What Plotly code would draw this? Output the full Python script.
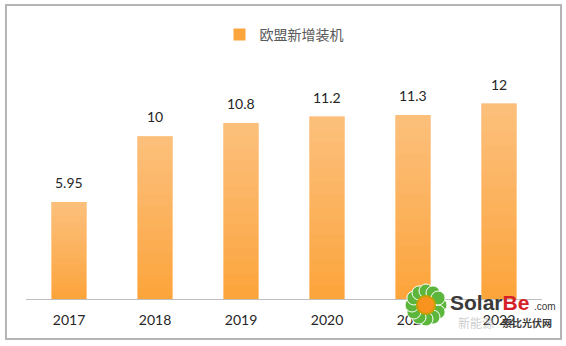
import math
import plotly.graph_objects as go

# EU new installations (GW) by year
years = ["2017", "2018", "2019", "2020", "2021", "2022"]
installs = [5.95, 10, 10.8, 11.2, 11.3, 12]
value_labels = ["5.95", "10", "10.8", "11.2", "11.3", "12"]
series_name = "欧盟新增装机"

BASE_COLOR = "#fca53c"
FONT_LATIN = "Lato, 'Open Sans', sans-serif"
FONT_CJK = "'Noto Sans CJK SC', sans-serif"

fig = go.Figure()

# main bars
fig.add_trace(go.Bar(
    x=years, y=installs, name=series_name,
    marker=dict(color=BASE_COLOR, line=dict(width=0)),
    showlegend=True,
))

# translucent white overlays that lighten each bar towards its top
steps = 14
for k in range(1, steps):
    frac = k / steps
    fig.add_trace(go.Bar(
        x=years,
        base=[v * frac for v in installs],
        y=[v * (1 - frac) for v in installs],
        marker=dict(color="rgba(255,255,255,0.032)", line=dict(width=0)),
        hoverinfo="skip", showlegend=False,
    ))

# value labels above the bars (category index as x position)
for i, (v, lab) in enumerate(zip(installs, value_labels)):
    fig.add_annotation(x=i, y=v, text=lab, showarrow=False,
                       yanchor="bottom", yshift=9,
                       font=dict(family=FONT_LATIN, size=14, color="#262626"))

fig.update_layout(
    width=566, height=346,
    margin=dict(l=26, r=24, t=71, b=47),
    paper_bgcolor="white", plot_bgcolor="white",
    barmode="overlay", bargap=0.59,
    showlegend=True,
    legend=dict(
        orientation="h", x=0.5, xanchor="center", y=1.158, yanchor="middle",
        font=dict(family=FONT_CJK, size=14, color="#595959"),
        bgcolor="rgba(0,0,0,0)", itemwidth=30,
    ),
    xaxis=dict(
        type="category", showgrid=False, zeroline=False,
        showline=True, linecolor="#bfbfbf", linewidth=1,
        ticks="", ticklabelstandoff=8,
        tickfont=dict(family=FONT_LATIN, size=14, color="#262626"),
    ),
    yaxis=dict(range=[0, 14], visible=False, showgrid=False),
)

# outer frame
fig.add_shape(type="rect", xref="paper", yref="paper",
              x0=-0.0388, x1=1.0368, y0=-0.175, y1=1.289,
              line=dict(color="#b4b4b4", width=2), fillcolor="rgba(0,0,0,0)")


# pixel -> paper helpers for the watermark
def px(x):
    return (x - 26) / 516


def py(y):
    return (299 - y) / 228


# SolarBe watermark: flower logo
cx, cy = 426, 305
for i in range(12):
    a = 2 * math.pi * i / 12
    ex, ey = cx + 14 * math.cos(a), cy + 14 * math.sin(a)
    fig.add_shape(type="circle", xref="paper", yref="paper",
                  x0=px(ex - 7), x1=px(ex + 7), y0=py(ey + 7), y1=py(ey - 7),
                  line=dict(color="white", width=1), fillcolor="#5cb63c")
fig.add_shape(type="circle", xref="paper", yref="paper",
              x0=px(cx - 9), x1=px(cx + 9), y0=py(cy + 9), y1=py(cy - 9),
              line=dict(color="#c9a000", width=2), fillcolor="#f7931e")

fig.add_annotation(xref="paper", yref="paper", x=px(448), y=py(302),
                   xanchor="left", yanchor="middle", showarrow=False,
                   text="<b>Solar<span style='color:#d62027'>Be</span></b>",
                   font=dict(family="'Liberation Sans', sans-serif", size=21, color="#3a3a3a"))
fig.add_annotation(xref="paper", yref="paper", x=px(532), y=py(306),
                   xanchor="left", yanchor="middle", showarrow=False,
                   text=".com",
                   font=dict(family="'Liberation Sans', sans-serif", size=10, color="#3a3a3a"))
fig.add_annotation(xref="paper", yref="paper", x=px(554), y=py(322),
                   xanchor="right", yanchor="middle", showarrow=False,
                   text="<b>索比光伏网</b>",
                   font=dict(family=FONT_CJK, size=10, color="#3a3a3a"))
fig.add_annotation(xref="paper", yref="paper", x=px(456), y=py(322),
                   xanchor="left", yanchor="middle", showarrow=False,
                   text="新能源",
                   font=dict(family=FONT_CJK, size=12, color="rgba(160,160,160,0.55)"))

fig.write_html("out.html")
